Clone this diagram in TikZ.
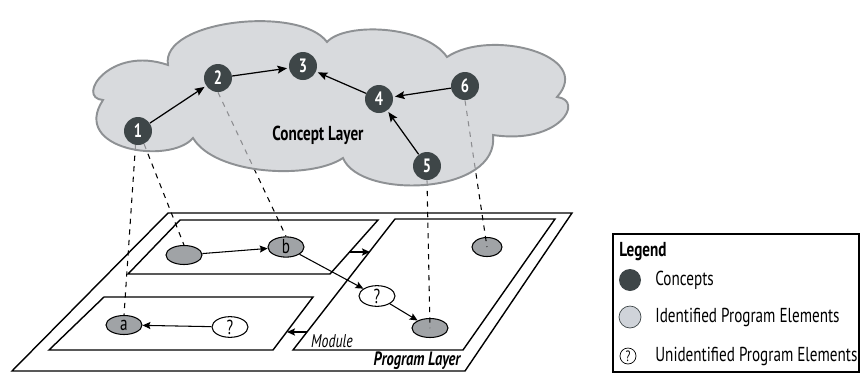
\documentclass[tikz,border=0pt]{standalone}
\usepackage{fontspec}
\setmainfont{PT Sans}[FakeStretch=0.75]
\usepackage{xcolor}
\usetikzlibrary{positioning,shapes.geometric,arrows.meta}
\definecolor{conceptfill}{HTML}{3E4648}
\definecolor{cloudfill}{HTML}{C8CACE}
\definecolor{cloudline}{HTML}{8E9194}
\definecolor{elemfill}{HTML}{A0A3A6}
\definecolor{legendlight}{HTML}{CFD3D9}
\pgfdeclarelayer{front}
\pgfsetlayers{main,front}

\begin{document}
\begin{tikzpicture}[x=0.02cm, y=-0.02cm, >={Stealth[length=5.5pt,width=4.5pt,inset=1pt]},
    concept/.style={circle, fill=conceptfill, text=white, minimum size=0.56cm, inner sep=0pt, font=\fontsize{11}{12}\selectfont\bfseries},
    elem/.style={ellipse, draw, line width=0.6pt, fill=elemfill, minimum width=0.72cm, minimum height=0.38cm, inner sep=0pt, font=\fontsize{11.5}{12}\selectfont},
    unknown/.style={elem, fill=white},
    layer/.style={draw, line width=0.8pt},
    link/.style={->, line width=0.6pt, >={Stealth[length=4.5pt,width=4pt,inset=0.8pt]}},
    legtext/.style={anchor=west, inner sep=0pt, font=\fontsize{11.5}{13}\selectfont}]

    \useasboundingbox (0,0) rectangle (860,373);

    % Konzepte (vorne)
    \begin{pgfonlayer}{front}
    \node[concept] (c1) at (138,131) {1};
    \node[concept] (c2) at (218,78) {2};
    \node[concept] (c3) at (303,66) {3};
    \node[concept] (c4) at (379,99) {4};
    \node[concept] (c5) at (427,166) {5};
    \node[concept] (c6) at (465,86) {6};

    \draw[->, line width=0.7pt, shorten >=1pt] (c1) -- (c2);
    \draw[->, line width=0.7pt, shorten >=1pt] (c2) -- (c3);
    \draw[->, line width=0.7pt, shorten >=1pt] (c4) -- (c3);
    \draw[->, line width=0.7pt, shorten >=1pt] (c6) -- (c4);
    \draw[->, line width=0.7pt, shorten >=1pt] (c5) -- (c4);
    \end{pgfonlayer}

    % Programmschicht
    \draw[layer] (168,213) -- (572,213) -- (465,371) -- (12,371) -- cycle;
    \draw[layer] (180,220) -- (378,220) -- (330,274) -- (128,274) -- cycle;
    \draw[layer] (104,297) -- (313,297) -- (273,350) -- (49,350) -- cycle;
    \draw[layer] (395,219) -- (555,219) -- (463,350) -- (293,350) -- cycle;

    \node[font=\fontsize{10.5}{11}\selectfont\itshape] (modlabel) at (332,341) {Module};
    \node[font=\fontsize{11}{12}\selectfont\bfseries\itshape] (proglabel) at (417,361) {Program Layer};

    % Programmelemente
    \node[elem] (u1) at (184,255) {};
    \node[elem] (b) at (286,247) {b};
    \node[elem] (a) at (124,325) {a};
    \node[unknown] (q1) at (230,327) {?};
    \node[unknown] (q2) at (377,296) {?};
    \node[elem] (e5) at (430,328) {};
    \node[elem, minimum width=0.6cm] (e6) at (487,247) {};

    \draw[link] (u1) -- (b);
    \draw[link] (b) -- (q2);
    \draw[link] (q2) -- (e5);
    \draw[link] (q1) -- (a);

    % Modulpfeile
    \coordinate (m1out) at (349,252);
    \coordinate (m2in) at (370,252);
    \coordinate (m2out) at (307,332);
    \coordinate (m3in) at (287,332);
    \draw[link, line width=1pt] (m1out) -- (m2in);
    \draw[link, line width=1pt] (m2out) -- (m3in);

    % Zuordnungen
    \draw[dashed, line width=0.6pt] (c1.-100) -- (a.north);
    \draw[dashed, line width=0.6pt] (c1.-65) -- (u1.north);
    \draw[dashed, line width=0.6pt] (c2.south) -- (b.north);
    \draw[dashed, line width=0.6pt] (c5.south) -- (e5.center);
    \draw[dashed, line width=0.6pt] (c6.south) -- (e6.center);

    % Wolke
    \draw[draw=cloudline, line width=1.1pt, fill=cloudfill, fill opacity=0.7]
        (103,100) .. controls (75,98) and (110,45) .. (168,65)
        .. controls (160,20) and (300,5) .. (327,42)
        .. controls (345,22) and (425,25) .. (447,57)
        .. controls (490,28) and (595,55) .. (557,97)
        .. controls (585,100) and (560,145) .. (493,135)
        .. controls (500,195) and (360,200) .. (343,158)
        .. controls (310,180) and (215,175) .. (193,138)
        .. controls (170,165) and (70,150) .. cycle;
    \node[font=\fontsize{11.5}{13}\selectfont\bfseries] (cloudlabel) at (318,135) {Concept Layer};

    % Legende
    \draw[line width=0.6pt] (613,234) rectangle (859,372);
    \node[legtext, font=\fontsize{11.5}{13}\selectfont\bfseries] (legtitle) at (619,252) {Legend};
    \node[circle, fill=conceptfill, minimum size=0.44cm, inner sep=0pt] (legc) at (630,280) {};
    \node[legtext] (legctext) at (655,280) {Concepts};
    \node[circle, draw=conceptfill, fill=legendlight, minimum size=0.44cm, inner sep=0pt] (legi) at (630,317) {};
    \node[legtext] (legitext) at (655,317) {Identified Program Elements};
    \node[circle, draw, minimum size=0.32cm, inner sep=0pt, font=\fontsize{8.5}{9}\selectfont] (legu) at (628,356) {?};
    \node[legtext] (legutext) at (655,356) {Unidentified Program Elements};

\end{tikzpicture}
\end{document}
